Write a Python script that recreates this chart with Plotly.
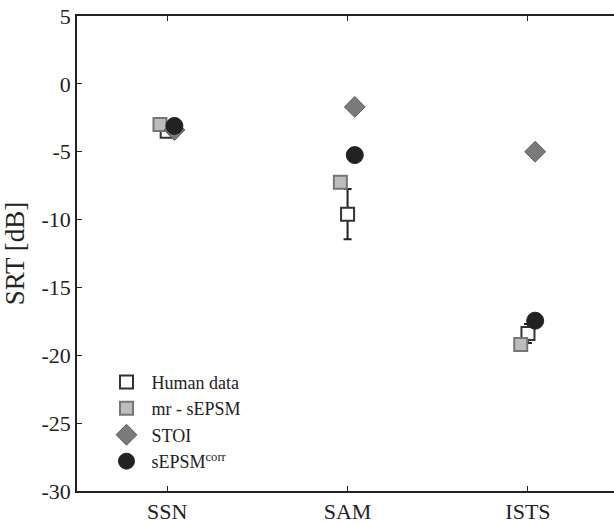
import plotly.graph_objects as go

categories = ["SSN", "SAM", "ISTS"]
human_data = [-3.5, -9.6, -18.4]
human_err = [0.3, 1.85, 0.7]
mr_sepsm = [-3.0, -7.25, -19.2]
stoi = [-3.4, -1.7, -5.0]
sepsm_corr = [-3.1, -5.25, -17.45]
y_ticks = [5, 0, -5, -10, -15, -20, -25, -30]

idx = [1, 2, 3]
off = 0.04
FONT = "Liberation Serif"

fig = go.Figure()
fig.add_trace(go.Scatter(
    x=idx, y=human_data, mode="markers", name="Human data",
    marker=dict(symbol="square", size=13, color="white",
                line=dict(color="#333333", width=2)),
    error_y=dict(type="data", array=human_err, visible=True,
                 color="#222222", thickness=2, width=4)))
fig.add_trace(go.Scatter(
    x=[i - off for i in idx], y=mr_sepsm, mode="markers", name="mr - sEPSM",
    marker=dict(symbol="square", size=13, color="#bdbdbd",
                line=dict(color="#767676", width=2))))
fig.add_trace(go.Scatter(
    x=[i + off for i in idx], y=stoi, mode="markers", name="STOI",
    marker=dict(symbol="diamond", size=16, color="#7a7a7a",
                line=dict(color="#5a5a5a", width=1))))
fig.add_trace(go.Scatter(
    x=[i + off for i in idx], y=sepsm_corr, mode="markers",
    name="sEPSM<sup>corr</sup>",
    marker=dict(symbol="circle", size=17, color="#222222",
                line=dict(color="#222222", width=1))))

fig.update_layout(
    width=614, height=524,
    margin=dict(l=77, r=0, t=16, b=33),
    paper_bgcolor="white", plot_bgcolor="white",
    font=dict(family=FONT, size=22, color="#222222"),
    showlegend=True,
    legend=dict(x=0.0456, y=0.0237, xanchor="left", yanchor="bottom",
                bgcolor="rgba(0,0,0,0)", font=dict(family=FONT, size=18),
                tracegroupgap=0, itemsizing="trace", itemwidth=40),
    xaxis=dict(range=[0.5, 3.477], tickvals=idx, ticktext=categories,
               showgrid=False, zeroline=False, showline=True,
               linecolor="#222222", linewidth=1.5, mirror="ticks",
               ticks="inside", ticklen=5, tickcolor="#222222",
               tickfont=dict(family=FONT, size=22), automargin=False),
    yaxis=dict(range=[-30, 5], tickvals=y_ticks,
               ticktext=[str(v) for v in y_ticks],
               showgrid=False, zeroline=False, showline=True,
               linecolor="#222222", linewidth=1.5, mirror=False,
               ticks="inside", ticklen=5, tickcolor="#222222",
               tickfont=dict(family=FONT, size=22), automargin=False,
               title=dict(text="SRT [dB]", font=dict(family=FONT, size=27),
                          standoff=10)),
)

fig.write_html("out.html", config={"displayModeBar": False},
               post_script="document.body.style.margin='0';")
